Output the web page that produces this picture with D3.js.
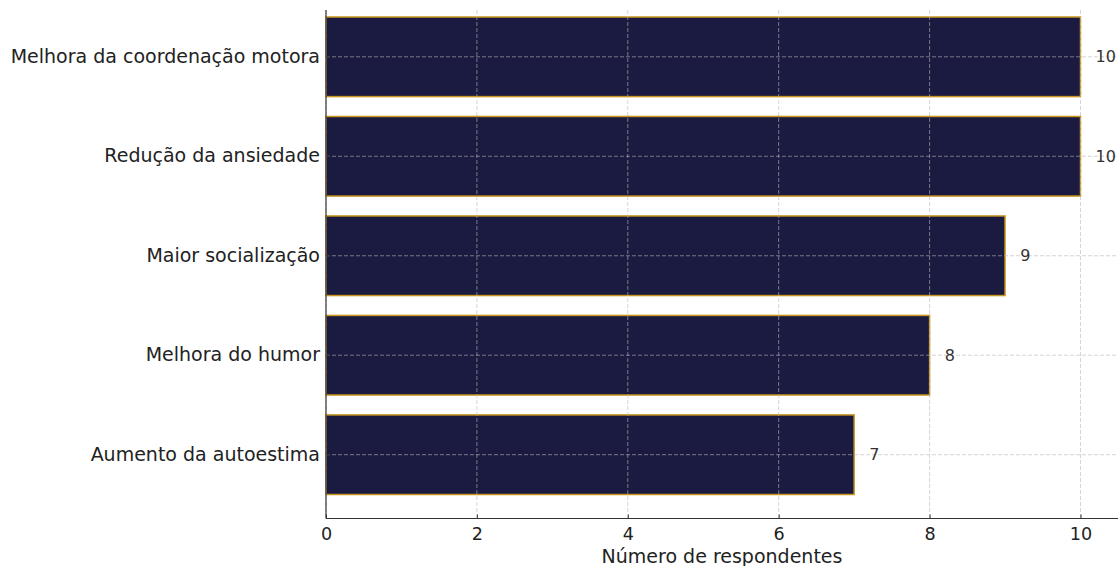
<!DOCTYPE html>
<html><head><meta charset="utf-8">
<script src="https://cdn.jsdelivr.net/npm/d3@7"></script>
<style>body{margin:0;background:#fff}svg{display:block}text{font-family:"DejaVu Sans",sans-serif}</style>
</head><body>
<svg id="c" width="1120" height="566"></svg>
<script>
const categories = ["Melhora da coordenação motora","Redução da ansiedade","Maior socialização","Melhora do humor","Aumento da autoestima"];
const values = [10,10,9,8,7];
const xTicks = [0,2,4,6,8,10];
const xTitle = "Número de respondentes";

const svg = d3.select("#c");
const x = d3.scaleLinear().domain([0,10]).range([326,1080.5]);
const xMax = 1118;
const y = d3.scaleBand().domain(categories).range([17,494.5]).paddingInner(0.2).paddingOuter(0);
const yTop = 10, yBot = 518.5;

// bars
svg.append("g").selectAll("rect").data(categories).join("rect")
  .attr("x", x(0)).attr("y", d=>y(d))
  .attr("width", (d,i)=>x(values[i])-x(0)).attr("height", y.bandwidth())
  .attr("fill","#1b1a40").attr("stroke","#c8961e").attr("stroke-width",1.5);

// grid on top
const grid = svg.append("g").attr("stroke","#b8b8b8").attr("stroke-opacity",0.75).attr("stroke-dasharray","4,2").attr("stroke-width",0.8);
grid.selectAll("line.v").data(xTicks).join("line").attr("class","v")
  .attr("x1",d=>x(d)).attr("x2",d=>x(d)).attr("y1",yTop).attr("y2",yBot);
grid.selectAll("line.h").data(categories).join("line").attr("class","h")
  .attr("x1",x(0)).attr("x2",xMax).attr("y1",d=>y(d)+y.bandwidth()/2).attr("y2",d=>y(d)+y.bandwidth()/2);

// x axis
const xAxis = d3.axisBottom(x).tickValues(xTicks).tickSizeInner(-4).tickSizeOuter(0).tickPadding(9).tickFormat(d3.format("d"));
const gx = svg.append("g").attr("transform",`translate(0,${yBot})`).call(xAxis);
gx.select(".domain").remove();
gx.append("line").attr("x1",x(0)).attr("x2",xMax).attr("stroke","#333").attr("stroke-width",1.2);
gx.selectAll(".tick line").attr("stroke","#333");
gx.selectAll(".tick text").attr("font-size",17.6).attr("fill","#222").attr("font-family","DejaVu Sans");

// y axis
const yAxis = d3.axisLeft(y).tickSizeInner(-4).tickSizeOuter(0).tickPadding(6);
const gy = svg.append("g").attr("transform",`translate(${x(0)},0)`).call(yAxis);
gy.select(".domain").remove();
gy.append("line").attr("y1",yTop).attr("y2",yBot).attr("stroke","#333").attr("stroke-width",1.2);
gy.selectAll(".tick line").attr("stroke","#333");
gy.selectAll(".tick text").attr("font-size",19).attr("fill","#222").attr("font-family","DejaVu Sans");

// value labels
svg.append("g").selectAll("text").data(categories).join("text")
  .attr("x",(d,i)=>x(values[i]+0.2)).attr("y",d=>y(d)+y.bandwidth()/2)
  .attr("dy","0.35em").attr("font-size",16).attr("fill","#333")
  .text((d,i)=>values[i]);

// title
svg.append("text").attr("x",(x(0)+xMax)/2).attr("y",563).attr("text-anchor","middle")
  .attr("font-size",19).attr("fill","#222").text(xTitle);
</script>
</body></html>
